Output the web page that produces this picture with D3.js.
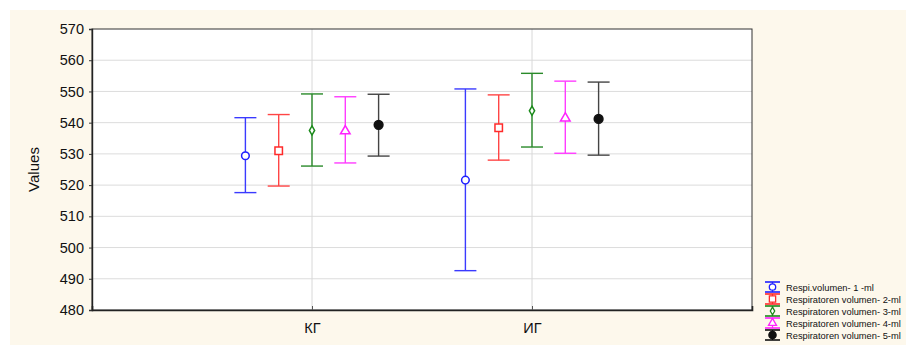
<!DOCTYPE html>
<html>
<head>
<meta charset="utf-8">
<script src="https://cdn.jsdelivr.net/npm/d3@7"></script>
<style>
  html, body { margin: 0; padding: 0; background: #ffffff; }
  svg { display: block; font-family: Arial, "Liberation Sans", sans-serif; }
</style>
</head>
<body>
<svg id="chart" width="906" height="345"></svg>
<script>
const categories = ["КГ", "ИГ"];
const seriesNames = [
  "Respi.volumen- 1 -ml",
  "Respiratoren volumen-  2-ml",
  "Respiratoren volumen- 3-ml",
  "Respiratoren volumen- 4-ml",
  "Respiratoren volumen- 5-ml"
];
// mean, upper and lower per series, for [КГ, ИГ]
const meanValues  = [[529.4, 521.6], [531.0, 538.4], [537.5, 543.8], [537.3, 541.4], [539.3, 541.2]];
const upperValues = [[541.6, 550.8], [542.6, 548.9], [549.2, 555.8], [548.3, 553.3], [549.1, 553.0]];
const lowerValues = [[517.6, 492.6], [519.7, 528.0], [526.1, 532.2], [527.1, 530.2], [529.3, 529.6]];
const yTicks = [480, 490, 500, 510, 520, 530, 540, 550, 560, 570];
const seriesColors = ["#1f1fff", "#ff2a2a", "#1a8a1a", "#ff22ff", "#111111"];
const lineColors = ["#3a3aff", "#ff4545", "#2a8a2a", "#ff3cff", "#444444"];
const seriesSymbols = [d3.symbolCircle, d3.symbolSquare, d3.symbolDiamond, d3.symbolTriangle, d3.symbolCircle];
const symbolSizes = [46, 56, 24, 40, 60];
const symbolFilled = [false, false, false, false, true];

(function draw() {
const svg = d3.select("#chart");
const W = 906, H = 345;
const pL = 92, pR = 752, pT = 29, pB = 310;

// cream panel
svg.append("rect").attr("x", 10).attr("y", 10).attr("width", W - 10).attr("height", H - 10).attr("fill", "#fdf8ec");

const x = d3.scalePoint().domain(categories).range([pL, pR]).padding(1);
const xOff = d3.scalePoint().domain(d3.range(seriesNames.length)).range([-66.6, 66.6]);
const y = d3.scaleLinear().domain([480, 570]).range([pB, pT]);

// plot area
svg.append("rect").attr("x", pL).attr("y", pT).attr("width", pR - pL).attr("height", pB - pT).attr("fill", "#ffffff");

// grid
const g = svg.append("g");
g.selectAll("line.hg").data(yTicks.filter(t => t > 480 && t < 570)).join("line")
  .attr("x1", pL).attr("x2", pR).attr("y1", d => y(d)).attr("y2", d => y(d))
  .attr("stroke", "#dcdcdc").attr("stroke-width", 1);
g.selectAll("line.vg").data(categories).join("line")
  .attr("x1", d => x(d)).attr("x2", d => x(d)).attr("y1", pT).attr("y2", pB)
  .attr("stroke", "#d8d8d8").attr("stroke-width", 1);

// frame
svg.append("rect").attr("x", pL).attr("y", pT).attr("width", pR - pL).attr("height", pB - pT)
  .attr("fill", "none").attr("stroke", "#333").attr("stroke-width", 1);

// axes
const yAxis = d3.axisLeft(y).tickValues(yTicks).tickSize(3).tickPadding(5).tickFormat(d3.format("d"));
const ya = svg.append("g").attr("transform", `translate(${pL},0)`).call(yAxis);
ya.select(".domain").attr("stroke", "#222").attr("stroke-width", 1.4);
ya.selectAll(".tick line").attr("stroke", "#333");
ya.selectAll(".tick text").attr("font-size", 14.5).attr("fill", "#111").attr("font-family", "Arial, 'Liberation Sans', sans-serif");

const xAxis = d3.axisBottom(x).tickSize(-4).tickPadding(13);
const xa = svg.append("g").attr("transform", `translate(0,${pB})`).call(xAxis);
xa.select(".domain").attr("stroke", "#222").attr("stroke-width", 1.6);
xa.selectAll(".tick line").attr("stroke", "#555");
xa.selectAll(".tick text").attr("font-size", 14.5).attr("fill", "#111").attr("font-family", "Arial, 'Liberation Sans', sans-serif");

// y label
svg.append("text").attr("transform", `translate(39,${(pT + pB) / 2}) rotate(-90)`)
  .attr("text-anchor", "middle").attr("font-size", 15).attr("fill", "#111").text("Values");

// error bars
const capHalf = 11;
seriesNames.forEach((name, si) => {
  const sg = svg.append("g");
  categories.forEach((c, ci) => {
    const cx = x(c) + xOff(si);
    const col = lineColors[si];
    sg.append("line").attr("x1", cx).attr("x2", cx).attr("y1", y(upperValues[si][ci])).attr("y2", y(lowerValues[si][ci]))
      .attr("stroke", col).attr("stroke-width", 1.4);
    [upperValues[si][ci], lowerValues[si][ci]].forEach(v => {
      sg.append("line").attr("x1", cx - capHalf).attr("x2", cx + capHalf).attr("y1", y(v)).attr("y2", y(v))
        .attr("stroke", col).attr("stroke-width", 1.4);
    });
    sg.append("path").attr("d", d3.symbol().type(seriesSymbols[si]).size(symbolSizes[si])())
      .attr("transform", `translate(${cx},${y(meanValues[si][ci])})`)
      .attr("fill", symbolFilled[si] ? seriesColors[si] : "#ffffff")
      .attr("stroke", seriesColors[si]).attr("stroke-width", 1.5);
  });
});

// legend
const lg = svg.append("g").attr("transform", "translate(765,287)");
seriesNames.forEach((name, si) => {
  const row = lg.append("g").attr("transform", `translate(0,${si * 12})`);
  const col = seriesColors[si];
  row.append("line").attr("x1", 0).attr("x2", 15).attr("y1", -5).attr("y2", -5).attr("stroke", col).attr("stroke-width", 1.6);
  row.append("line").attr("x1", 0).attr("x2", 15).attr("y1", 5).attr("y2", 5).attr("stroke", col).attr("stroke-width", 1.6);
  row.append("line").attr("x1", 7.5).attr("x2", 7.5).attr("y1", -5).attr("y2", 5).attr("stroke", col).attr("stroke-width", 1.2);
  row.append("path").attr("d", d3.symbol().type(seriesSymbols[si]).size(symbolSizes[si] * 0.7)())
    .attr("transform", "translate(7.5,0)")
    .attr("fill", symbolFilled[si] ? col : "#ffffff").attr("stroke", col).attr("stroke-width", 1.3);
  row.append("text").attr("x", 21).attr("y", 3.5).attr("font-size", 9.3).attr("fill", "#111").text(name);
});
})();
</script>
</body>
</html>
